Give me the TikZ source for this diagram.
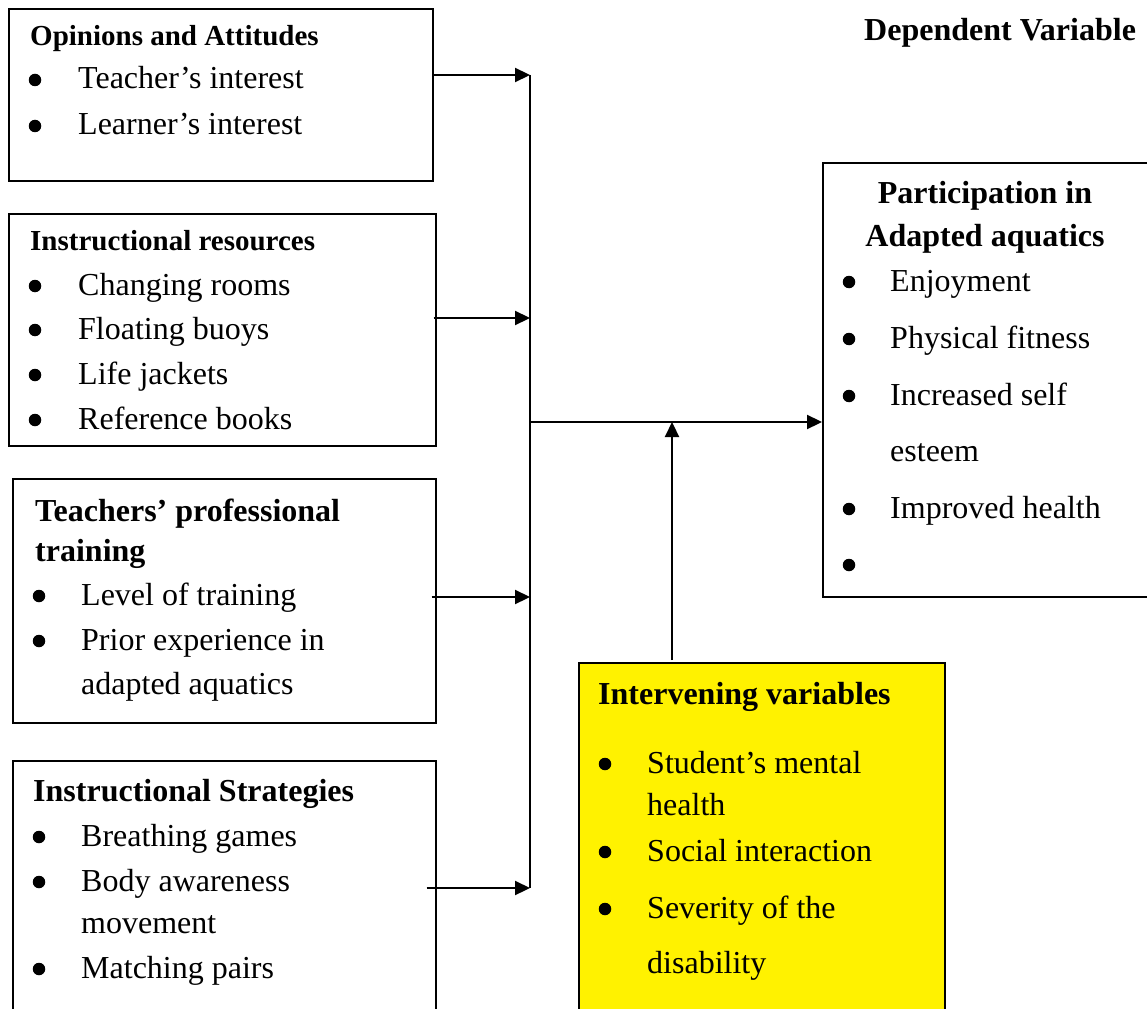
\documentclass[tikz,border=0pt]{standalone}
\usepackage{fontspec}
\setmainfont{Liberation Serif}
\usetikzlibrary{arrows.meta}
\newcommand{\bitem}[5]{%
  \node[bul] (#1b) at (#2,#4-9) {};
  \node[txt] (#1) at (#3,#4) {#5};}
\begin{document}
\begin{tikzpicture}[x=1pt,y=-1pt,
  box/.style={draw=black,line width=1.6pt,rectangle,anchor=north west,inner sep=0pt},
  txt/.style={anchor=base west,inner sep=0pt,font=\fontsize{32}{36}\selectfont},
  bul/.style={circle,fill=black,inner sep=0pt,minimum size=12.5pt},
  ttl/.style={anchor=base west,inner sep=0pt,font=\fontsize{32}{36}\selectfont\bfseries},
  sttl/.style={anchor=base west,inner sep=0pt,font=\fontsize{29}{34}\selectfont\bfseries},
  arr/.style={line width=2.2pt,-{Triangle[length=15pt,width=14pt]}},
  bus/.style={line width=2.2pt}]
\useasboundingbox (0,0) rectangle (1147,1008);
% boxes
\node[box,minimum width=424,minimum height=172] (b1) at (8,8) {};
\node[box,minimum width=427,minimum height=232] (b2) at (8,213) {};
\node[box,minimum width=423,minimum height=244] (b3) at (12,478) {};
\node[box,minimum width=423,minimum height=260] (b4) at (12,760) {};
\node[box,minimum width=335,minimum height=434] (out) at (822,162) {};
\node[box,fill=yellow,minimum width=366,minimum height=360] (iv) at (578,662) {};
% box 1
\node[sttl] (t1) at (30,46) {Opinions and Attitudes};
\bitem{i11}{35}{78}{89}{Teacher’s interest}
\bitem{i12}{35}{78}{135}{Learner’s interest}
% box 2
\node[sttl] (t2) at (30,251) {Instructional resources};
\bitem{i21}{35}{78}{295}{Changing rooms}
\bitem{i22}{35}{78}{339}{Floating buoys}
\bitem{i23}{35}{78}{384}{Life jackets}
\bitem{i24}{35}{78}{429}{Reference books}
% box 3
\node[ttl] (t3a) at (35,521) {Teachers’ professional};
\node[ttl] (t3b) at (35,561) {training};
\bitem{i31}{39}{81}{605}{Level of training}
\bitem{i32}{39}{81}{650}{Prior experience in}
\node[txt] (i33) at (81,694) {adapted aquatics};
% box 4
\node[ttl] (t4) at (33,801) {Instructional Strategies};
\bitem{i41}{39}{81}{846}{Breathing games}
\bitem{i42}{39}{81}{891}{Body awareness}
\node[txt] (i43) at (81,933) {movement};
\bitem{i44}{39}{81}{978}{Matching pairs}
% dependent
\node[ttl] (dv) at (864,41) {Dependent Variable};
\node[ttl,anchor=base] (to1) at (985,204) {Participation in};
\node[ttl,anchor=base] (to2) at (985,246) {Adapted aquatics};
\bitem{o1}{849}{890}{291}{Enjoyment}
\bitem{o2}{849}{890}{348}{Physical fitness}
\bitem{o3}{849}{890}{405}{Increased self}
\node[txt] (o4) at (890,461) {esteem};
\bitem{o5}{849}{890}{518}{Improved health}
\node[bul] (o6b) at (849,565) {};
% intervening
\node[ttl] (tiv) at (598,704) {Intervening variables};
\bitem{v1}{605}{647}{773}{Student’s mental}
\node[txt] (v2) at (647,815) {health};
\bitem{v3}{605}{647}{861}{Social interaction}
\bitem{v4}{605}{647}{918}{Severity of the}
\node[txt] (v5) at (647,973) {disability};
% connectors
\coordinate (j1) at (530,75);
\coordinate (j2) at (530,318);
\coordinate (j3) at (530,597);
\coordinate (j4) at (530,888);
\coordinate (jm) at (530,422);
\coordinate (jv) at (672,422);
\draw[bus] (j1) -- (j4);
\draw[arr] (b1.east |- j1) -- (j1);
\draw[arr] ([xshift=-3pt]b2.east |- j2) -- (j2);
\draw[arr] ([xshift=-5pt]b3.east |- j3) -- (j3);
\draw[arr] ([xshift=-10pt]b4.east |- j4) -- (j4);
\draw[arr] (jm) -- (out.west |- jm);
\draw[arr] ([yshift=2pt]iv.north -| jv) -- (jv);
\end{tikzpicture}
\end{document}
